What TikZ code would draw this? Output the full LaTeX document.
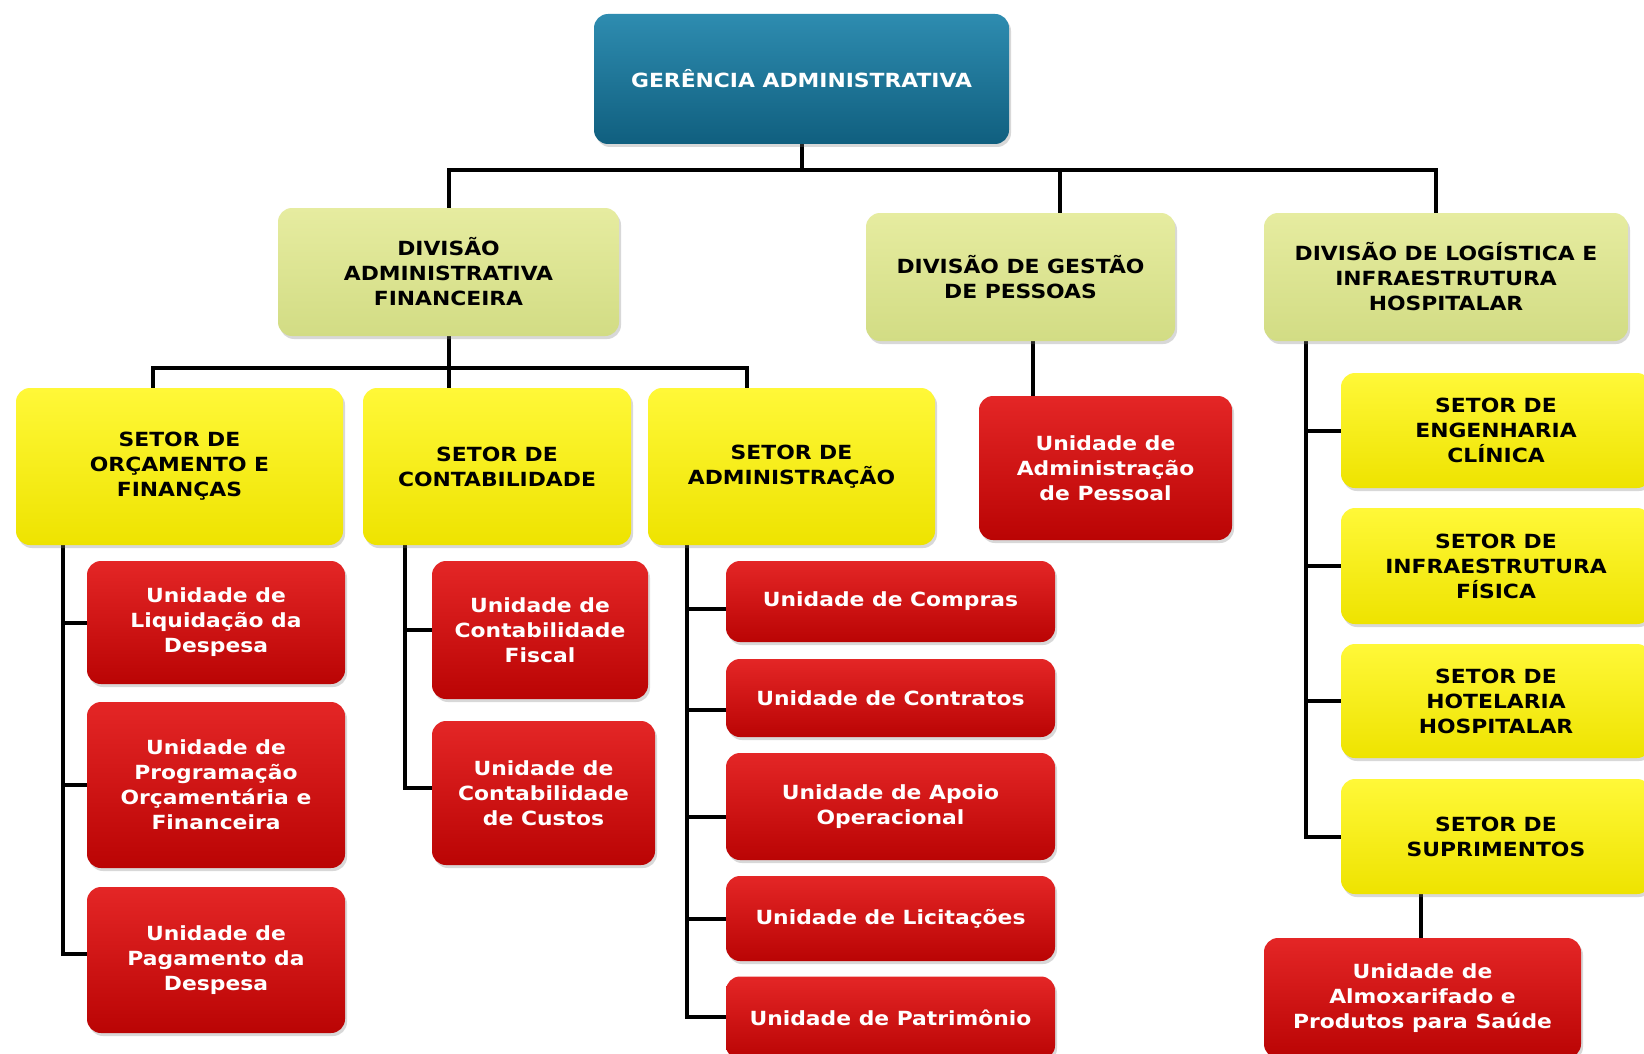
\documentclass[tikz,border=0pt]{standalone}
\usepackage{fontspec}
\setmainfont[FakeStretch=1.12]{DejaVu Sans}
\usetikzlibrary{shadows,backgrounds}
\definecolor{blueTop}{HTML}{2E8CB0}
\definecolor{blueMid}{HTML}{19708F}
\definecolor{blueBot}{HTML}{105F7F}
\definecolor{greenTop}{HTML}{E6ECA0}
\definecolor{greenMid}{HTML}{D9E290}
\definecolor{greenBot}{HTML}{D2DC84}
\definecolor{yelTop}{HTML}{FFF838}
\definecolor{yelMid}{HTML}{F3E80C}
\definecolor{yelBot}{HTML}{EEE300}
\definecolor{redTop}{HTML}{E42626}
\definecolor{redMid}{HTML}{C60808}
\definecolor{redBot}{HTML}{BA0404}

\begin{document}
\begin{tikzpicture}[x=1pt,y=-1pt,
  box/.style={rounded corners=14pt, align=center, inner sep=0pt,
    font=\bfseries\fontsize{19.5}{25}\selectfont,
    drop shadow={opacity=.3,shadow xshift=2pt,shadow yshift=-3pt}},
  gerbox/.style={box, top color=blueTop, middle color=blueMid, bottom color=blueBot, text=white},
  divbox/.style={box, top color=greenTop, middle color=greenMid, bottom color=greenBot, text=black},
  setorbox/.style={box, top color=yelTop, middle color=yelMid, bottom color=yelBot, text=black},
  unbox/.style={box, top color=redTop, middle color=redMid, bottom color=redBot, text=white},
  link/.style={line width=4pt, line cap=rect}]
\useasboundingbox (0,0) rectangle (1644,1054);

\node[gerbox, minimum width=415pt, minimum height=130pt] (ger) at (801.5,79) {GERÊNCIA ADMINISTRATIVA};

\node[divbox, minimum width=341pt, minimum height=128pt] (daf) at (448.5,272) {DIVISÃO\\ADMINISTRATIVA\\FINANCEIRA};
\node[divbox, minimum width=309pt, minimum height=128pt] (dgp) at (1020.5,277) {DIVISÃO DE GESTÃO\\DE PESSOAS};
\node[divbox, minimum width=364pt, minimum height=128pt] (dlih) at (1446,277) {DIVISÃO DE LOGÍSTICA E\\INFRAESTRUTURA\\HOSPITALAR};

\node[setorbox, minimum width=327pt, minimum height=157pt] (sof) at (179.5,466.5) {SETOR DE\\ORÇAMENTO E\\FINANÇAS};
\node[setorbox, minimum width=268pt, minimum height=157pt] (sc) at (497,466.5) {SETOR DE\\CONTABILIDADE};
\node[setorbox, minimum width=287pt, minimum height=157pt] (sa) at (791.5,466.5) {SETOR DE\\ADMINISTRAÇÃO};
\node[unbox, minimum width=253pt, minimum height=144pt] (uap) at (1105.5,468) {Unidade de\\Administração\\de Pessoal};

\node[setorbox, minimum width=310pt, minimum height=115pt] (sec) at (1496,430.5) {SETOR DE\\ENGENHARIA\\CLÍNICA};
\node[setorbox, minimum width=310pt, minimum height=116pt] (sif) at (1496,566) {SETOR DE\\INFRAESTRUTURA\\FÍSICA};
\node[setorbox, minimum width=310pt, minimum height=114pt] (shh) at (1496,701) {SETOR DE\\HOTELARIA\\HOSPITALAR};
\node[setorbox, minimum width=310pt, minimum height=115pt] (ss) at (1496,836.5) {SETOR DE\\SUPRIMENTOS};
\node[unbox, minimum width=317pt, minimum height=120pt] (uaps) at (1422.5,998) {Unidade de\\Almoxarifado e\\Produtos para Saúde};

\node[unbox, minimum width=258pt, minimum height=123pt] (uld) at (216,622.5) {Unidade de\\Liquidação da\\Despesa};
\node[unbox, minimum width=258pt, minimum height=166pt] (upof) at (216,785) {Unidade de\\Programação\\Orçamentária e\\Financeira};
\node[unbox, minimum width=258pt, minimum height=146pt] (upd) at (216,960) {Unidade de\\Pagamento da\\Despesa};

\node[unbox, minimum width=216pt, minimum height=138pt] (ucf) at (540,630) {Unidade de\\Contabilidade\\Fiscal};
\node[unbox, minimum width=223pt, minimum height=144pt] (ucc) at (543.5,793) {Unidade de\\Contabilidade\\de Custos};

\node[unbox, minimum width=329pt, minimum height=81pt] (ucomp) at (890.5,601.5) {Unidade de Compras};
\node[unbox, minimum width=329pt, minimum height=78pt] (ucont) at (890.5,698) {Unidade de Contratos};
\node[unbox, minimum width=329pt, minimum height=107pt] (uapo) at (890.5,806.5) {Unidade de Apoio\\Operacional};
\node[unbox, minimum width=329pt, minimum height=85pt] (ulic) at (890.5,918.5) {Unidade de Licitações};
\node[unbox, minimum width=329pt, minimum height=83pt] (upat) at (890.5,1018) {Unidade de Patrimônio};

\coordinate (bar) at (0,170);
\coordinate (bar2) at (0,368);
\coordinate (dgpin) at ([xshift=39.5pt]dgp.north);
\coordinate (dlihin) at ([xshift=-10pt]dlih.north);
\coordinate (sofin) at ([xshift=-26.5pt]sof.north);
\coordinate (sain) at ([xshift=-44.5pt]sa.north);
\coordinate (dgpout) at ([xshift=12.5pt]dgp.south);
\coordinate (soft) at ([xshift=-116.5pt]sof.south);
\coordinate (sct) at ([xshift=-92pt]sc.south);
\coordinate (sat) at ([xshift=-104.5pt]sa.south);
\coordinate (dliht) at ([xshift=-140pt]dlih.south);
\coordinate (ssout) at ([xshift=-75pt]ss.south);

\begin{scope}[on background layer]
\fill[white] (0,0) rectangle (1644,1054);
\draw[link] (ger.south) -- (ger.south |- bar);
\draw[link] (daf.north) -- (daf.north |- bar) -- (dlihin |- bar) -- (dlihin);
\draw[link] (dgpin |- bar) -- (dgpin);
\draw[link] (daf.south) -- (daf.south |- sc.north);
\draw[link] (sofin) -- (sofin |- bar2) -- (sain |- bar2) -- (sain);
\draw[link] (dgpout) -- (dgpout |- uap.north);

\draw[link] (soft) |- ([yshift=6pt]upd.west);
\draw[link] (soft |- uld.west) -- (uld.west);
\draw[link] (soft |- upof.west) -- (upof.west);

\draw[link] (sct) |- ([yshift=5pt]ucc.west);
\draw[link] (sct |- ucf.west) -- (ucf.west);

\draw[link] (sat) |- ([yshift=1pt]upat.west);
\draw[link] ([yshift=-7pt]sat |- ucomp.west) -- ([yshift=-7pt]ucomp.west);
\draw[link] ([yshift=-12pt]sat |- ucont.west) -- ([yshift=-12pt]ucont.west);
\draw[link] ([yshift=-10pt]sat |- uapo.west) -- ([yshift=-10pt]uapo.west);
\draw[link] (sat |- ulic.west) -- (ulic.west);

\draw[link] (dliht) |- (ss.west);
\draw[link] (dliht |- sec.west) -- (sec.west);
\draw[link] (dliht |- sif.west) -- (sif.west);
\draw[link] (dliht |- shh.west) -- (shh.west);
\draw[link] (ssout) -- (ssout |- uaps.north);
\end{scope}
\end{tikzpicture}
\end{document}
